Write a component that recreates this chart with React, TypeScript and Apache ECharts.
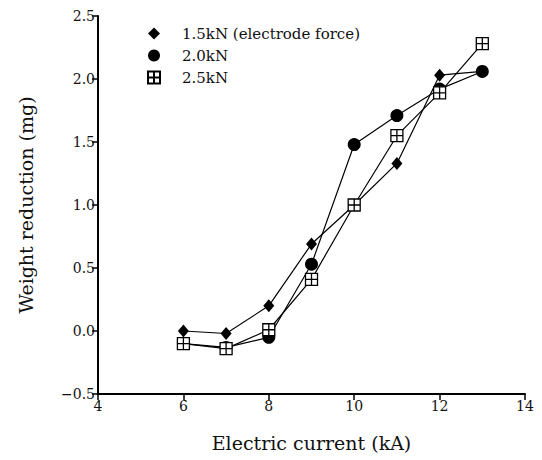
import React, { useEffect, useRef } from "react";
import * as echarts from "echarts";

const currents = [6, 7, 8, 9, 10, 11, 12, 13];
const force15 = [0.0, -0.02, 0.2, 0.69, 1.0, 1.33, 2.03, 2.06];
const force20 = [-0.1, -0.13, -0.05, 0.53, 1.48, 1.71, 1.92, 2.06];
const force25 = [-0.1, -0.14, 0.01, 0.41, 1.0, 1.55, 1.89, 2.28];
const seriesNames = ["1.5kN (electrode force)", "2.0kN", "2.5kN"];

const SQUARE_PLUS = "path://M0 0H10V10H0Z M5 0V10 M0 5H10";
const FONT = "DejaVu Serif";

export default function App() {
  const ref = useRef<HTMLDivElement>(null);
  useEffect(() => {
    if (!ref.current) return;
    const chart = echarts.init(ref.current, undefined, { renderer: "svg" });
    const mk = (vals: number[]) => currents.map((c, i) => [c, vals[i]]);
    chart.setOption({
      animation: false,
      backgroundColor: "#ffffff",
      textStyle: { fontFamily: FONT, color: "#111" },
      grid: { left: 98, right: 17, top: 16, bottom: 66 },
      legend: {
        orient: "vertical",
        left: 147,
        top: 26,
        itemGap: 7,
        itemWidth: 12,
        itemHeight: 12,
        padding: 0,
        textStyle: { fontFamily: FONT, fontSize: 15, color: "#111", padding: [0, 0, 0, 17] },
        data: [
          { name: seriesNames[0], icon: "diamond" },
          { name: seriesNames[1], icon: "circle" },
          { name: seriesNames[2], icon: SQUARE_PLUS },
        ],
      },
      xAxis: {
        type: "value",
        min: 4,
        max: 14,
        interval: 2,
        name: "Electric current (kA)",
        nameLocation: "middle",
        nameGap: 39,
        nameTextStyle: { fontFamily: FONT, fontSize: 19, color: "#111" },
        axisLine: { show: true, onZero: false, lineStyle: { color: "#000", width: 2 } },
        axisTick: { show: true, inside: false, length: 6, lineStyle: { color: "#000", width: 1.5 } },
        axisLabel: { fontFamily: FONT, fontSize: 14, color: "#111", margin: 5 },
        splitLine: { show: false },
      },
      yAxis: {
        type: "value",
        min: -0.5,
        max: 2.5,
        interval: 0.5,
        name: "Weight reduction (mg)",
        nameLocation: "middle",
        nameGap: 63,
        nameTextStyle: { fontFamily: FONT, fontSize: 19, color: "#111" },
        axisLine: { show: true, onZero: false, lineStyle: { color: "#000", width: 2 } },
        axisTick: { show: true, inside: false, length: 6, lineStyle: { color: "#000", width: 1.5 } },
        axisLabel: {
          fontFamily: FONT,
          fontSize: 14,
          color: "#111",
          margin: 3,
          formatter: (v: number) => v.toFixed(1).replace("-", "\u2212"),
        },
        splitLine: { show: false },
      },
      series: [
        {
          name: seriesNames[0],
          type: "line",
          data: mk(force15),
          symbol: "diamond",
          symbolSize: [11, 13],
          lineStyle: { color: "#000", width: 1.2 },
          itemStyle: { color: "#000", opacity: 1 },
          z: 3,
        },
        {
          name: seriesNames[1],
          type: "line",
          data: mk(force20),
          symbol: "circle",
          symbolSize: 13,
          lineStyle: { color: "#000", width: 1.2 },
          itemStyle: { color: "#000", opacity: 1 },
          z: 4,
        },
        {
          name: seriesNames[2],
          type: "line",
          data: mk(force25),
          symbol: SQUARE_PLUS,
          symbolSize: 12,
          lineStyle: { color: "#000", width: 1.2 },
          itemStyle: { color: "#fff", borderColor: "#000", borderWidth: 1.3, opacity: 1 },
          z: 5,
        },
      ],
    });
    return () => chart.dispose();
  }, []);
  return <div ref={ref} style={{ width: 542, height: 460, position: "absolute", left: 0, top: 0 }} />;
}
